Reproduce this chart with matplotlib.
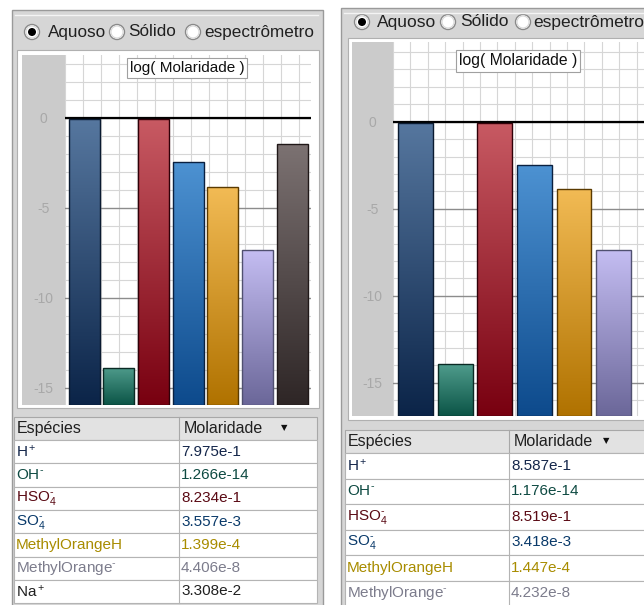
import numpy as np
import matplotlib
matplotlib.use("Agg")
import matplotlib.pyplot as plt
from matplotlib.patches import Rectangle, Circle
from matplotlib.colors import LinearSegmentedColormap

plt.rcParams['font.family'] = ['Liberation Sans', 'DejaVu Sans']
plt.rcParams['mathtext.fontset'] = 'custom'
plt.rcParams['mathtext.rm'] = 'Liberation Sans'
plt.rcParams['mathtext.it'] = 'Liberation Sans'
plt.rcParams['mathtext.bf'] = 'Liberation Sans:bold'
plt.rcParams['axes.unicode_minus'] = False

W, H = 644, 605

# ---- data ----
species = ["H$^+$", r"OH$^{\text{-}}$", r"HSO$_4^{\text{-}}$", r"SO$_4^{\text{-}}$",
           "MethylOrangeH", r"MethylOrange$^{\text{-}}$", "Na$^+$"]
molar_left = ["7.975e-1", "1.266e-14", "8.234e-1", "3.557e-3", "1.399e-4",
              "4.406e-8", "3.308e-2"]
molar_right = ["8.587e-1", "1.176e-14", "8.519e-1", "3.418e-3", "1.447e-4",
               "4.232e-8"]
radio_labels = ["Aquoso", "Sólido", "espectrômetro"]
yticks = [0, -5, -10, -15]

# bar gradient colours (top, bottom), outline, table text colour
top_cols = ["#56779f", "#4f9c8c", "#c85a63", "#4d92d2", "#f2bb55", "#c4bdf2", "#7c7272"]
bot_cols = ["#0b2448", "#0b5446", "#780010", "#0d4a8c", "#b07200", "#6b6799", "#2e2626"]
edge_cols = ["#0a1a30", "#0a2a24", "#300008", "#0a2040", "#5a3a00", "#505070", "#201818"]
txt_cols = ["#14264a", "#0e4a42", "#5a0a14", "#0a3a6a", "#a88c00", "#7c7c8c", "#202020"]

fig = plt.figure(figsize=(W / 100, H / 100), dpi=100)
bg = fig.add_axes([0, 0, 1, 1], zorder=0)
bg.set_xlim(0, W)
bg.set_ylim(H, 0)
bg.axis('off')


def px_axes(x0, y0, x1, y1):
    return fig.add_axes([x0 / W, 1 - y1 / H, (x1 - x0) / W, (y1 - y0) / H], zorder=2)


def radio(cx, cy, on):
    bg.add_patch(Circle((cx, cy), 7.5, facecolor='white', edgecolor='#8a8a8a', lw=1.0))
    bg.add_patch(Circle((cx, cy), 6, facecolor='none', edgecolor='#d8d8d8', lw=0.8))
    if on:
        bg.add_patch(Circle((cx, cy), 4, facecolor='black', edgecolor='none'))


def panel(g, molar):
    n = len(molar)
    vals = np.log10([float(s) for s in molar])
    # panel background
    bg.add_patch(Rectangle((g['px0'], g['py0']), g['px1'] - g['px0'], H + 5 - g['py0'],
                           facecolor='#d6d6d6', edgecolor='#9a9a9a', lw=1.0))
    bg.plot([g['px0'] + 3, g['px1'] - 5], [g['py0'] + 5, g['py0'] + 5], color='#f4f4f4', lw=1.0)
    # radio buttons
    for i, (rx, tx, lab) in enumerate(zip(g['rx'], g['tx'], radio_labels)):
        radio(rx, g['ry'], i == 0)
        bg.text(tx, g['ry'], lab, fontsize=g['rfs'], va='center', ha='left', color='#202020')
    # chart frame and gray label strip
    fx0, fy0, fx1, fy1 = g['frame']
    bg.add_patch(Rectangle((fx0, fy0), fx1 - fx0, fy1 - fy0, facecolor='white',
                           edgecolor='#b0b0b0', lw=0.8))
    ax0, ay0, ax1, ay1 = g['plot']
    bg.add_patch(Rectangle((g['lx'], ay0), ax0 - g['lx'], ay1 - ay0, facecolor='#cbcbcb',
                           edgecolor='none'))

    ax = px_axes(ax0, ay0, ax1, ay1)
    ax.set_facecolor('white')
    x = np.arange(n)
    ylo, yhi = g['ylim']
    bars = ax.bar(x, vals - ylo, bottom=ylo, width=g['bw'], facecolor='none',
                  edgecolor=edge_cols[:n], linewidth=1.0, zorder=3)
    grad = np.linspace(0, 1, 256).reshape(-1, 1)
    for b, c0, c1 in zip(bars, top_cols, bot_cols):
        cmap = LinearSegmentedColormap.from_list('g', [c1, c0])
        bx, by = b.get_x(), b.get_y()
        im = ax.imshow(grad, cmap=cmap, origin='lower', aspect='auto', zorder=2,
                       extent=[bx, bx + b.get_width(), by, by + b.get_height()])
        im.set_clip_path(b)
    ax.axhline(0, color='black', lw=1.6, zorder=1.5)
    xlo = g['xlo']
    xhi = xlo + (ax1 - ax0) / g['pitch']
    ax.set_xticks([])
    ax.set_xticks(np.arange(xlo, xhi, g['gx']), minor=True)
    ax.set_yticks(yticks)
    ax.set_yticks(np.arange(-16, 5), minor=True)
    # limits after ticks, set_ticks would widen them
    ax.set_xlim(xlo, xhi)
    ax.set_ylim(ylo, yhi)
    ax.set_axisbelow(True)
    ax.grid(which='minor', color='#d6d6d6', lw=0.8)
    ax.grid(which='major', axis='y', color='#8c8c8c', lw=1.0)
    ax.tick_params(which='both', length=0)
    ax.tick_params(axis='y', colors='#a8a8a8', labelsize=10, pad=g['tpad'])
    for lb in ax.get_yticklabels():
        lb.set_ha('center')
    for s in ax.spines.values():
        s.set_visible(False)
    bx0, by0 = g['title']
    ax.text((bx0 - ax0) / (ax1 - ax0), 1 - (by0 - ay0) / (ay1 - ay0), "log( Molaridade )",
            transform=ax.transAxes, ha='center', va='center', fontsize=g['tfs'], color='#101010',
            zorder=6, bbox=dict(boxstyle='square,pad=0.2', facecolor='white',
                                edgecolor='#a0a0a0', lw=0.8))

    # table
    t0, t1 = g['tx0'], g['tx1']
    cd = g['tcol']
    hy0, hy1 = g['thead']
    bg.add_patch(Rectangle((t0, hy0), t1 - t0, hy1 - hy0, facecolor='#e2e2e2',
                           edgecolor='#a8a8a8', lw=0.8))
    bg.plot([cd, cd], [hy0, hy1], color='#a8a8a8', lw=0.8)
    bg.text(t0 + 3, (hy0 + hy1) / 2, "Espécies", fontsize=11.5, va='center', color='#202020')
    bg.text(cd + 5, (hy0 + hy1) / 2, "Molaridade", fontsize=11.5, va='center', color='#202020')
    bg.text(g['tri'], (hy0 + hy1) / 2 - 1, "▼", fontsize=6, va='center', ha='center',
            color='#101010', family='DejaVu Sans')
    rh = g['rowh']
    for i in range(n):
        y0 = hy1 + i * rh
        bg.add_patch(Rectangle((t0, y0), t1 - t0, rh, facecolor='white',
                               edgecolor='#b4b4b4', lw=0.8))
        bg.plot([cd, cd], [y0, y0 + rh], color='#b4b4b4', lw=0.8)
        bg.text(t0 + 2, y0 + rh / 2, species[i], fontsize=11, va='center',
                color=txt_cols[i])
        bg.text(cd + 2, y0 + rh / 2, molar[i], fontsize=11, va='center',
                color=txt_cols[i])


left = dict(px0=12, py0=10, px1=323, rx=[32, 117, 193], tx=[48, 128, 204], ry=32, rfs=12.3,
            frame=(17, 50, 319, 408), lx=22, plot=(65, 55, 311, 405), ylim=(-15.96, 3.48),
            bw=0.89, pitch=34.7, xlo=-0.55, gx=18 / 34.7, tpad=15.5, title=(187, 68), tfs=11,
            tx0=14, tx1=317, tcol=179, thead=(417, 440), tri=284, rowh=23.3)
right = dict(px0=341, py0=8, px1=660, rx=[362, 448, 523], tx=[377, 460, 533], ry=22, rfs=12.5,
             frame=(348, 38, 660, 420), lx=352, plot=(393, 42, 644, 416), ylim=(-16.91, 4.58),
             bw=0.88, pitch=39.6, xlo=-0.57, gx=17.4 / 39.6, tpad=15, title=(518, 61), tfs=11.3,
             tx0=345, tx1=660, tcol=509, thead=(430, 453), tri=606, rowh=25.5)

panel(left, molar_left)
panel(right, molar_right)

fig.savefig("out.png", dpi=100)
